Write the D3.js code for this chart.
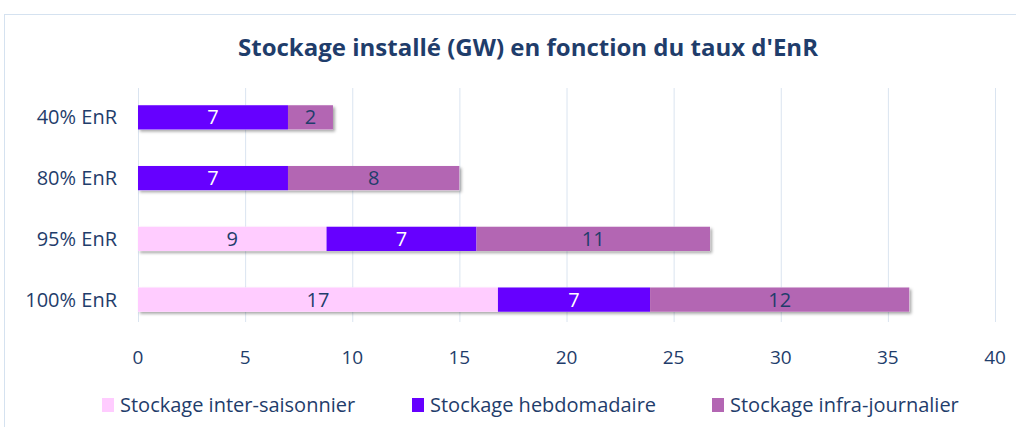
<!DOCTYPE html>
<html>
<head>
<meta charset="utf-8">
<script src="https://cdn.jsdelivr.net/npm/d3@7"></script>
<style>
  body { margin: 0; background: #fff; }
  svg text { font-family: "Open Sans", "Noto Sans", sans-serif; fill: #1f3d6b; }
</style>
</head>
<body>
<div id="chart"></div>
<script>
var categories = ["40% EnR", "80% EnR", "95% EnR", "100% EnR"];
var seriesNames = ["Stockage inter-saisonnier", "Stockage hebdomadaire", "Stockage infra-journalier"];
var interSaisonnier = [0, 0, 8.8, 16.8];
var hebdomadaire = [7.0, 7.0, 7.0, 7.1];
var infraJournalier = [2.1, 8.0, 10.9, 12.1];
var xTicks = [0, 5, 10, 15, 20, 25, 30, 35, 40];

var colors = ["#ffccff", "#6600ff", "#b366b3"];
var labelColors = ["#1f3d6b", "#ffffff", "#1f3d6b"];

var width = 1016, height = 427;
var svg = d3.select("#chart").append("svg")
    .attr("width", width)
    .attr("height", height);

var defs = svg.append("defs");
var f = defs.append("filter").attr("id", "shadow")
    .attr("x", "-5%").attr("y", "-20%").attr("width", "110%").attr("height", "160%");
f.append("feDropShadow")
    .attr("dx", 2).attr("dy", 2).attr("stdDeviation", 1.5)
    .attr("flood-color", "#000").attr("flood-opacity", 0.35);

// chart frame
svg.append("rect")
    .attr("x", 4.5).attr("y", 14.5)
    .attr("width", 1030).attr("height", 430)
    .attr("fill", "none").attr("stroke", "#d5e2f0");

svg.append("text")
    .attr("x", 528).attr("y", 56)
    .attr("text-anchor", "middle")
    .style("font-size", "24px").style("font-weight", "bold")
    .text("Stockage installé (GW) en fonction du taux d'EnR");

var x = d3.scaleLinear().domain([0, 40]).range([138, 995]);
var y = d3.scaleBand().domain(categories).range([87, 330]).paddingInner(0.6).paddingOuter(0.3);

// gridlines
svg.append("g").selectAll("line")
    .data(xTicks)
  .enter().append("line")
    .attr("x1", function(d){ return x(d) + 0.5; })
    .attr("x2", function(d){ return x(d) + 0.5; })
    .attr("y1", 88).attr("y2", 322)
    .attr("stroke", "#dae4f0");

// x tick labels
svg.append("g").selectAll("text")
    .data(xTicks)
  .enter().append("text")
    .attr("x", function(d){ return x(d); })
    .attr("y", 364)
    .attr("text-anchor", "middle")
    .style("font-size", "19px")
    .text(function(d){ return d; });

// category labels
svg.append("g").selectAll("text")
    .data(categories)
  .enter().append("text")
    .attr("x", 117)
    .attr("y", function(d){ return y(d) + y.bandwidth() / 2 + 7; })
    .attr("text-anchor", "end")
    .style("font-size", "20px")
    .text(function(d){ return d; });

var rows = categories.map(function(c, i){
  return { cat: c, inter: interSaisonnier[i], hebdo: hebdomadaire[i], infra: infraJournalier[i] };
});
var stack = d3.stack().keys(["inter", "hebdo", "infra"])(rows);

var barGroup = svg.append("g");
// shadows per whole bar
barGroup.selectAll(".shadow")
    .data(rows)
  .enter().append("rect")
    .attr("x", x(0))
    .attr("y", function(d){ return y(d.cat); })
    .attr("width", function(d){ return x(d.inter + d.hebdo + d.infra) - x(0); })
    .attr("height", y.bandwidth())
    .attr("fill", "#fff")
    .attr("filter", "url(#shadow)");

var layers = barGroup.selectAll(".layer")
    .data(stack)
  .enter().append("g")
    .attr("class", "layer")
    .attr("fill", function(d, i){ return colors[i]; });

layers.selectAll("rect")
    .data(function(d){ return d; })
  .enter().append("rect")
    .attr("x", function(d){ return x(d[0]); })
    .attr("y", function(d){ return y(d.data.cat); })
    .attr("width", function(d){ return x(d[1]) - x(d[0]); })
    .attr("height", y.bandwidth());

stack.forEach(function(layer, li){
  barGroup.append("g").selectAll("text")
      .data(layer.filter(function(d){ return d[1] - d[0] > 0; }))
    .enter().append("text")
      .attr("x", function(d){ return (x(d[0]) + x(d[1])) / 2; })
      .attr("y", function(d){ return y(d.data.cat) + y.bandwidth() / 2 + 7; })
      .attr("text-anchor", "middle")
      .style("font-size", "20px")
      .style("fill", labelColors[li])
      .text(function(d){ return Math.round(d[1] - d[0]); });
});

// legend
var legendX = [102, 412, 712];
var legend = svg.append("g").selectAll("g")
    .data(seriesNames)
  .enter().append("g")
    .attr("transform", function(d, i){ return "translate(" + legendX[i] + ",398)"; });
legend.append("rect")
    .attr("width", 12).attr("height", 14)
    .attr("fill", function(d, i){ return colors[i]; });
legend.append("text")
    .attr("x", 18).attr("y", 14)
    .style("font-size", "20px")
    .text(function(d){ return d; });
</script>
</body>
</html>
